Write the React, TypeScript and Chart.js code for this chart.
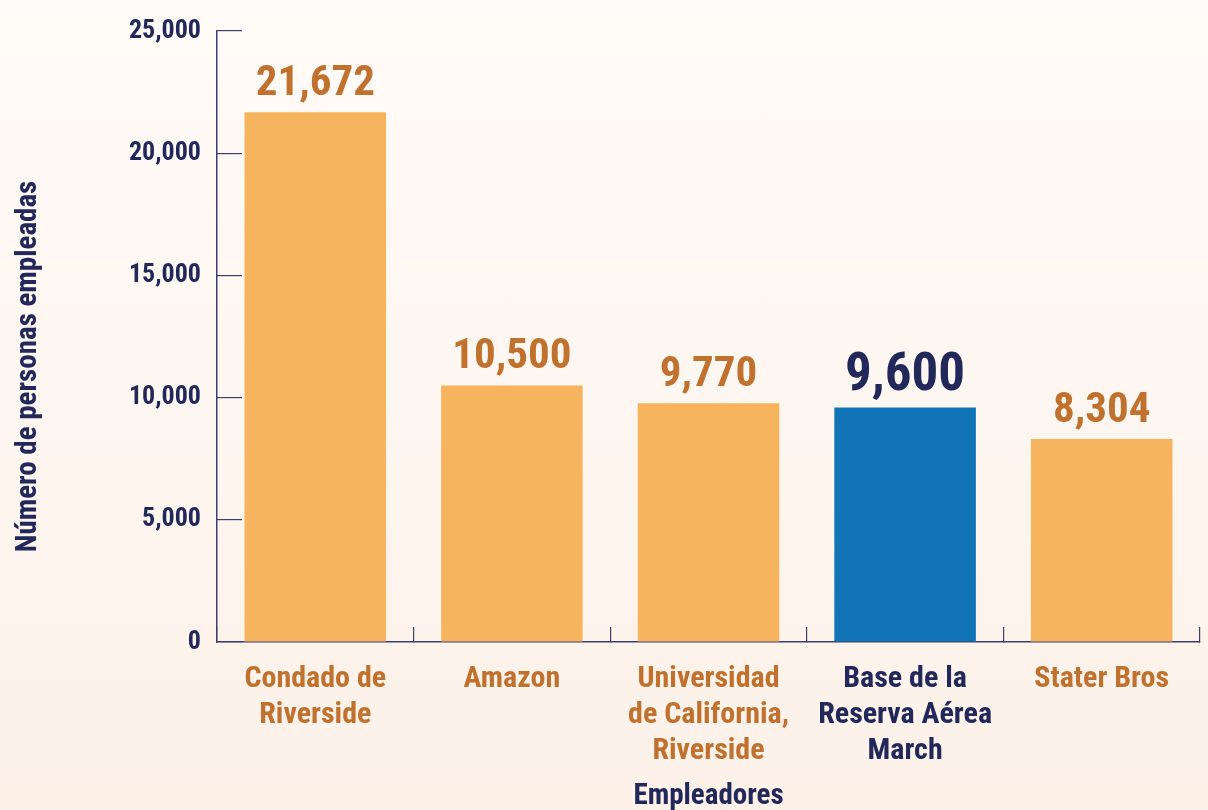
import React, { useEffect, useRef } from "react";
import { Chart, registerables } from "chart.js";

Chart.register(...registerables);

const categories: string[][] = [
  ["Condado de", "Riverside"],
  ["Amazon"],
  ["Universidad", "de California,", "Riverside"],
  ["Base de la", "Reserva Aérea", "March"],
  ["Stater Bros"],
];
const employees: number[] = [21672, 10500, 9770, 9600, 8304];
const highlightIndex = 3;
const yTickValues: number[] = [0, 5000, 10000, 15000, 20000, 25000];
const yAxisTitle = "Número de personas empleadas";
const xAxisTitle = "Empleadores";

const FAMILY = "'Roboto Condensed', 'Liberation Sans Narrow', 'DejaVu Sans Condensed', Roboto, sans-serif";
const NAVY = "#23285a";
const ORANGE_TEXT = "#c0712e";
const ORANGE_BAR = "#f7b45f";
const BLUE_BAR = "#1174b7";
const AXIS = "#3a3f6e";

const valueLabels = {
  id: "valueLabels",
  afterDatasetsDraw(chart: any) {
    const ctx = chart.ctx;
    const meta = chart.getDatasetMeta(0);
    ctx.save();
    try { (ctx as any).fontStretch = "condensed"; } catch (e) {}
    ctx.textAlign = "center";
    ctx.textBaseline = "alphabetic";
    meta.data.forEach((bar: any, i: number) => {
      const hi = i === highlightIndex;
      ctx.font = `bold ${hi ? 53 : 43}px ${FAMILY}`;
      ctx.fillStyle = hi ? NAVY : ORANGE_TEXT;
      ctx.fillText(employees[i].toLocaleString("en-US"), bar.x, bar.y - 17);
    });
    ctx.restore();
  },
};

const yTitle = {
  id: "yTitle",
  afterDraw(chart: any) {
    const ctx = chart.ctx;
    const area = chart.chartArea;
    ctx.save();
    try { (ctx as any).fontStretch = "condensed"; } catch (e) {}
    ctx.font = `bold 29px ${FAMILY}`;
    ctx.fillStyle = NAVY;
    ctx.textAlign = "center";
    ctx.textBaseline = "middle";
    ctx.translate(29, (area.top + area.bottom) / 2 + 30);
    ctx.rotate(-Math.PI / 2);
    ctx.fillText(yAxisTitle, 0, 0);
    ctx.restore();
  },
};

export default function App() {
  const ref = useRef<HTMLCanvasElement | null>(null);
  useEffect(() => {
    if (!ref.current) return;
    const chart = new Chart(ref.current, {
      type: "bar",
      data: {
        labels: categories,
        datasets: [
          {
            data: employees,
            backgroundColor: employees.map((_, i) => (i === highlightIndex ? BLUE_BAR : ORANGE_BAR)),
            barPercentage: 0.72,
            categoryPercentage: 1,
          },
        ],
      },
      options: {
        animation: false,
        responsive: false,
        maintainAspectRatio: false,
        layout: { padding: { top: 31, right: 8, left: 0, bottom: 0 } },
        plugins: { legend: { display: false }, tooltip: { enabled: false } },
        scales: {
          x: {
            offset: true,
            grid: {
              offset: true,
              drawOnChartArea: false,
              drawTicks: true,
              tickLength: -15,
              color: AXIS,
              lineWidth: 1.2,
            },
            border: { display: true, color: AXIS, width: 1.5 },
            ticks: {
              padding: 34,
              color: (c: any) => (c.index === highlightIndex ? NAVY : ORANGE_TEXT),
              font: { family: FAMILY, size: 30, weight: "bold condensed" as any, lineHeight: 1.2 },
              maxRotation: 0,
              autoSkip: false,
            },
            title: {
              display: true,
              text: xAxisTitle,
              color: NAVY,
              font: { family: FAMILY, size: 29, weight: "bold condensed" as any, lineHeight: 1.2 },
              padding: { top: 0, bottom: -4 },
            },
            afterFit(scale: any) {
              scale.height = 168;
              scale.paddingLeft = 0;
              scale.paddingRight = 0;
            },
          },
          y: {
            min: 0,
            max: 25000,
            afterBuildTicks(scale: any) {
              scale.ticks = yTickValues.map((v) => ({ value: v }));
            },
            grid: {
              drawOnChartArea: false,
              drawTicks: true,
              tickLength: -25,
              color: AXIS,
              lineWidth: 1.2,
            },
            border: { display: true, color: AXIS, width: 1.5 },
            ticks: {
              padding: 41,
              color: NAVY,
              font: { family: FAMILY, size: 26, weight: "bold condensed" as any },
              callback: (v: any) => Number(v).toLocaleString("en-US"),
            },
            afterFit(scale: any) {
              scale.width = 217;
              scale.paddingTop = 0;
              scale.paddingBottom = 0;
            },
          },
        },
      },
      plugins: [valueLabels, yTitle],
    });
    return () => chart.destroy();
  }, []);
  return (
    <div
      style={{
        position: "fixed",
        left: 0,
        top: 0,
        width: 1208,
        height: 810,
        background: "linear-gradient(to bottom, #fffbf8 0%, #fdf1e8 100%)",
      }}
    >
      <canvas ref={ref} width={1208} height={810} style={{ display: "block" }} />
    </div>
  );
}
